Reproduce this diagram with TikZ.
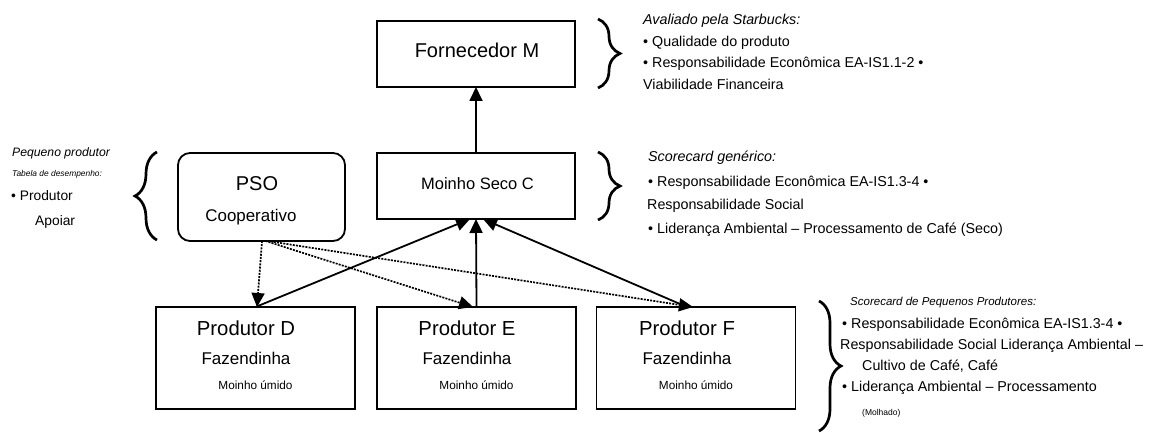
\documentclass[tikz,border=0pt]{standalone}
\usepackage{fontspec}
\setmainfont{Liberation Sans}
\usetikzlibrary{arrows.meta,decorations.pathreplacing}
\begin{document}
\begin{tikzpicture}[x=1pt,y=-1pt,
  box/.style={draw, line width=1.8pt, inner sep=0pt, outer sep=0pt},
  mbox/.style={box, minimum width=198pt, minimum height=66pt},
  pbox/.style={box, minimum width=199pt, minimum height=102pt},
  lbl/.style={anchor=base, inner sep=0pt},
  txt/.style={anchor=base west, inner sep=0pt, font=\fontsize{14.3}{17}\selectfont},
  ital/.style={anchor=base west, inner sep=0pt, font=\itshape\fontsize{14.3}{17}\selectfont},
  arr/.style={line width=1.8pt, -{Triangle[length=14pt,width=13pt]}},
  dotarr/.style={arr, line width=1.7pt, dash pattern=on 2pt off 1.2pt},
  brc/.style={decorate, decoration={brace, amplitude=22pt}, line width=2.7pt},
  pname/.style={lbl, font=\fontsize{20.3}{24}\selectfont},
  pfarm/.style={lbl, font=\fontsize{17}{20}\selectfont},
  pmill/.style={lbl, font=\fontsize{11.8}{14}\selectfont},
]
\useasboundingbox (0,0) rectangle (1155,433);

% boxes
\node[mbox] (forn) at (476,54) {};
\node[mbox] (moinho) at (476,186) {};
\node[box, rounded corners=12pt, minimum width=167pt, minimum height=88pt] (pso) at (261.5,197) {};
\node[pbox] (pd) at (255.5,358) {};
\node[pbox] (pe) at (476.5,358) {};
\node[pbox] (pf) at (696,358) {};

% box labels
\node[lbl, font=\fontsize{20}{24}\selectfont] (fornT) at (477,57.3) {Fornecedor M};
\node[lbl, font=\fontsize{16.5}{20}\selectfont] (moinhoT) at (477.5,189.3) {Moinho Seco C};
\node[lbl, font=\fontsize{20}{24}\selectfont] (psoT) at (257,190) {PSO};
\node[lbl, font=\fontsize{16.9}{20}\selectfont] (psoT2) at (251,221.7) {Cooperativo};

\node[pname] (pdA) at (246,335.7) {Produtor D};
\node[pfarm] (pdB) at (246,364) {Fazendinha};
\node[pmill] (pdC) at (255.5,389) {Moinho úmido};
\node[pname] (peA) at (467,335.7) {Produtor E};
\node[pfarm] (peB) at (467,364) {Fazendinha};
\node[pmill] (peC) at (476.5,389) {Moinho úmido};
\node[pname] (pfA) at (687,335.7) {Produtor F};
\node[pfarm] (pfB) at (687,364) {Fazendinha};
\node[pmill] (pfC) at (696,389) {Moinho úmido};

% connectors
\draw[arr] (moinho.north) -- (forn.south);
\draw[arr] (pd.north) -- ([xshift=-6pt]moinho.south);
\draw[arr] (pe.north) -- (moinho.south);
\draw[arr] ([xshift=-9pt]pf.north) -- ([xshift=7pt]moinho.south);
\draw[dotarr] ([xshift=0.5pt]pso.south) -- ([xshift=1.5pt]pd.north);
\draw[dotarr] ([xshift=4pt]pso.south) -- ([xshift=-3.5pt]pe.north);
\draw[dotarr] ([xshift=6pt]pso.south) -- ([xshift=-3pt]pf.north);

% braces
\draw[brc] (598,19) -- (598,88);
\draw[brc] (598,152) -- (598,220);
\draw[brc] (157,240) -- (157,152);
\draw[brc] (819,301) -- (819,431);

% top right text
\node[ital] (t1) at (643,25) {Avaliado pela Starbucks:};
\node[txt] (t2) at (643,47) {• Qualidade do produto};
\node[txt] (t3) at (643,68) {• Responsabilidade Econômica EA-IS1.1-2 •};
\node[txt] (t4) at (643,90) {Viabilidade Financeira};

% middle right text
\node[ital] (m1) at (648,161) {Scorecard genérico:};
\node[txt] (m2) at (648,186) {• Responsabilidade Econômica EA-IS1.3-4 •};
\node[txt] (m3) at (647,209) {Responsabilidade Social};
\node[txt] (m4) at (648,233) {• Liderança Ambiental – Processamento de Café (Seco)};

% bottom right text
\node[ital, font=\itshape\fontsize{11.5}{14}\selectfont] (b1) at (850,305) {Scorecard de Pequenos Produtores:};
\node[txt] (b2) at (842,328) {• Responsabilidade Econômica EA-IS1.3-4 •};
\node[txt] (b3) at (840,349) {Responsabilidade Social Liderança Ambiental –};
\node[txt] (b4) at (862,370) {Cultivo de Café, Café};
\node[txt] (b5) at (842,391) {• Liderança Ambiental – Processamento};
\node[txt, font=\fontsize{8.5}{10}\selectfont] (b6) at (862,415) {(Molhado)};

% left text
\node[ital, font=\itshape\fontsize{12.2}{14}\selectfont] (l1) at (12,156) {Pequeno produtor};
\node[ital, font=\itshape\fontsize{8.4}{10}\selectfont] (l2) at (12,176.5) {Tabela de desempenho:};
\node[txt, font=\fontsize{13.8}{16}\selectfont] (l3) at (11,200.5) {• Produtor};
\node[txt, font=\fontsize{13.8}{16}\selectfont] (l4) at (35,225.5) {Apoiar};
\end{tikzpicture}
\end{document}
